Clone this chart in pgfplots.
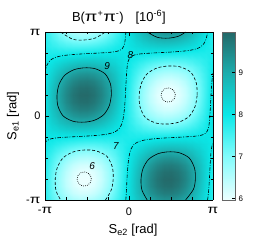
\documentclass[border=0pt]{standalone}
\usepackage{fontspec}
\setmainfont{Liberation Sans}
\usepackage{graphicx}
\usepackage{pgfplots}
\usepackage{pgfplotstable}
\pgfplotsset{compat=1.18}
\newcommand{\PI}{\scalebox{1.4}[1.08]{π}}
\pgfplotstableread{
x y z
-180 -180 7.71
-165 -180 7.36
-150 -180 7.04
-135 -180 6.79
-120 -180 6.61
-105 -180 6.52
-90 -180 6.54
-75 -180 6.64
-60 -180 6.84
-45 -180 7.11
-30 -180 7.43
-15 -180 7.79
0 -180 8.17
15 -180 8.52
30 -180 8.84
45 -180 9.09
60 -180 9.27
75 -180 9.36
90 -180 9.35
105 -180 9.24
120 -180 9.04
135 -180 8.77
150 -180 8.45
165 -180 8.09
180 -180 7.71
-180 -165 7.70
-165 -165 7.27
-150 -165 6.87
-135 -165 6.55
-120 -165 6.33
-105 -165 6.21
-90 -165 6.21
-75 -165 6.34
-60 -165 6.56
-45 -165 6.89
-30 -165 7.28
-15 -165 7.72
0 -165 8.18
15 -165 8.62
30 -165 9.01
45 -165 9.33
60 -165 9.55
75 -165 9.67
90 -165 9.67
105 -165 9.55
120 -165 9.32
135 -165 8.99
150 -165 8.60
165 -165 8.16
180 -165 7.70
-180 -150 7.71
-165 -150 7.22
-150 -150 6.78
-135 -150 6.41
-120 -150 6.16
-105 -150 6.02
-90 -150 6.01
-75 -150 6.14
-60 -150 6.39
-45 -150 6.74
-30 -150 7.18
-15 -150 7.67
0 -150 8.17
15 -150 8.66
30 -150 9.10
45 -150 9.47
60 -150 9.73
75 -150 9.86
90 -150 9.87
105 -150 9.74
120 -150 9.49
135 -150 9.14
150 -150 8.70
165 -150 8.22
180 -150 7.71
-180 -135 7.73
-165 -135 7.22
-150 -135 6.76
-135 -135 6.38
-120 -135 6.10
-105 -135 5.96
-90 -135 5.94
-75 -135 6.06
-60 -135 6.31
-45 -135 6.68
-30 -135 7.12
-15 -135 7.63
0 -135 8.15
15 -135 8.66
30 -135 9.12
45 -135 9.50
60 -135 9.78
75 -135 9.93
90 -135 9.94
105 -135 9.82
120 -135 9.57
135 -135 9.21
150 -135 8.76
165 -135 8.26
180 -135 7.73
-180 -120 7.77
-165 -120 7.27
-150 -120 6.82
-135 -120 6.45
-120 -120 6.18
-105 -120 6.03
-90 -120 6.01
-75 -120 6.12
-60 -120 6.35
-45 -120 6.70
-30 -120 7.12
-15 -120 7.61
0 -120 8.11
15 -120 8.61
30 -120 9.06
45 -120 9.43
60 -120 9.70
75 -120 9.85
90 -120 9.87
105 -120 9.76
120 -120 9.53
135 -120 9.18
150 -120 8.76
165 -120 8.27
180 -120 7.77
-180 -105 7.81
-165 -105 7.37
-150 -105 6.96
-135 -105 6.62
-120 -105 6.37
-105 -105 6.23
-90 -105 6.20
-75 -105 6.30
-60 -105 6.50
-45 -105 6.80
-30 -105 7.18
-15 -105 7.61
0 -105 8.07
15 -105 8.51
30 -105 8.92
45 -105 9.26
60 -105 9.51
75 -105 9.65
90 -105 9.68
105 -105 9.59
120 -105 9.38
135 -105 9.08
150 -105 8.70
165 -105 8.27
180 -105 7.81
-180 -90 7.87
-165 -90 7.50
-150 -90 7.17
-135 -90 6.88
-120 -90 6.67
-105 -90 6.55
-90 -90 6.52
-75 -90 6.59
-60 -90 6.74
-45 -90 6.99
-30 -90 7.29
-15 -90 7.64
0 -90 8.01
15 -90 8.38
30 -90 8.71
45 -90 9.00
60 -90 9.21
75 -90 9.33
90 -90 9.36
105 -90 9.29
120 -90 9.14
135 -90 8.90
150 -90 8.59
165 -90 8.24
180 -90 7.87
-180 -75 7.93
-165 -75 7.67
-150 -75 7.43
-135 -75 7.22
-120 -75 7.06
-105 -75 6.96
-90 -75 6.93
-75 -75 6.97
-60 -75 7.07
-45 -75 7.23
-30 -75 7.44
-15 -75 7.69
0 -75 7.95
15 -75 8.21
30 -75 8.45
45 -75 8.66
60 -75 8.82
75 -75 8.92
90 -75 8.95
105 -75 8.91
120 -75 8.81
135 -75 8.65
150 -75 8.44
165 -75 8.19
180 -75 7.93
-180 -60 7.99
-165 -60 7.85
-150 -60 7.72
-135 -60 7.60
-120 -60 7.51
-105 -60 7.44
-90 -60 7.41
-75 -60 7.42
-60 -60 7.46
-45 -60 7.53
-30 -60 7.63
-15 -60 7.75
0 -60 7.89
15 -60 8.03
30 -60 8.16
45 -60 8.28
60 -60 8.37
75 -60 8.44
90 -60 8.47
105 -60 8.46
120 -60 8.42
135 -60 8.35
150 -60 8.25
165 -60 8.13
180 -60 7.99
-180 -45 8.05
-165 -45 8.04
-150 -45 8.03
-135 -45 8.01
-120 -45 7.99
-105 -45 7.96
-90 -45 7.93
-75 -45 7.90
-60 -45 7.88
-45 -45 7.85
-30 -45 7.84
-15 -45 7.83
0 -45 7.83
15 -45 7.84
30 -45 7.85
45 -45 7.87
60 -45 7.90
75 -45 7.92
90 -45 7.95
105 -45 7.98
120 -45 8.01
135 -45 8.03
150 -45 8.04
165 -45 8.05
180 -45 8.05
-180 -30 8.10
-165 -30 8.23
-150 -30 8.33
-135 -30 8.41
-120 -30 8.46
-105 -30 8.47
-90 -30 8.45
-75 -30 8.39
-60 -30 8.30
-45 -30 8.19
-30 -30 8.05
-15 -30 7.92
0 -30 7.78
15 -30 7.66
30 -30 7.55
45 -30 7.47
60 -30 7.42
75 -30 7.41
90 -30 7.43
105 -30 7.49
120 -30 7.58
135 -30 7.70
150 -30 7.83
165 -30 7.96
180 -30 8.10
-180 -15 8.14
-165 -15 8.39
-150 -15 8.61
-135 -15 8.78
-120 -15 8.90
-105 -15 8.95
-90 -15 8.93
-75 -15 8.84
-60 -15 8.70
-45 -15 8.50
-30 -15 8.26
-15 -15 8.00
0 -15 7.74
15 -15 7.49
30 -15 7.27
45 -15 7.10
60 -15 6.98
75 -15 6.93
90 -15 6.95
105 -15 7.04
120 -15 7.18
135 -15 7.38
150 -15 7.62
165 -15 7.88
180 -15 8.14
-180 0 8.17
-165 0 8.52
-150 0 8.84
-135 0 9.09
-120 0 9.27
-105 0 9.36
-90 0 9.35
-75 0 9.24
-60 0 9.04
-45 0 8.77
-30 0 8.45
-15 0 8.09
0 0 7.71
15 0 7.36
30 0 7.04
45 0 6.79
60 0 6.61
75 0 6.52
90 0 6.54
105 0 6.64
120 0 6.84
135 0 7.11
150 0 7.43
165 0 7.79
180 0 8.17
-180 15 8.18
-165 15 8.62
-150 15 9.01
-135 15 9.33
-120 15 9.55
-105 15 9.67
-90 15 9.67
-75 15 9.55
-60 15 9.32
-45 15 8.99
-30 15 8.60
-15 15 8.16
0 15 7.70
15 15 7.27
30 15 6.87
45 15 6.55
60 15 6.33
75 15 6.21
90 15 6.21
105 15 6.34
120 15 6.56
135 15 6.89
150 15 7.28
165 15 7.72
180 15 8.18
-180 30 8.17
-165 30 8.66
-150 30 9.10
-135 30 9.47
-120 30 9.73
-105 30 9.86
-90 30 9.87
-75 30 9.74
-60 30 9.49
-45 30 9.14
-30 30 8.70
-15 30 8.22
0 30 7.71
15 30 7.22
30 30 6.78
45 30 6.41
60 30 6.16
75 30 6.02
90 30 6.01
105 30 6.14
120 30 6.39
135 30 6.74
150 30 7.18
165 30 7.67
180 30 8.17
-180 45 8.15
-165 45 8.66
-150 45 9.12
-135 45 9.50
-120 45 9.78
-105 45 9.93
-90 45 9.94
-75 45 9.82
-60 45 9.57
-45 45 9.21
-30 45 8.76
-15 45 8.26
0 45 7.73
15 45 7.22
30 45 6.76
45 45 6.38
60 45 6.10
75 45 5.96
90 45 5.94
105 45 6.06
120 45 6.31
135 45 6.68
150 45 7.12
165 45 7.63
180 45 8.15
-180 60 8.11
-165 60 8.61
-150 60 9.06
-135 60 9.43
-120 60 9.70
-105 60 9.85
-90 60 9.87
-75 60 9.76
-60 60 9.53
-45 60 9.18
-30 60 8.76
-15 60 8.27
0 60 7.77
15 60 7.27
30 60 6.82
45 60 6.45
60 60 6.18
75 60 6.03
90 60 6.01
105 60 6.12
120 60 6.35
135 60 6.70
150 60 7.12
165 60 7.61
180 60 8.11
-180 75 8.07
-165 75 8.51
-150 75 8.92
-135 75 9.26
-120 75 9.51
-105 75 9.65
-90 75 9.68
-75 75 9.59
-60 75 9.38
-45 75 9.08
-30 75 8.70
-15 75 8.27
0 75 7.81
15 75 7.37
30 75 6.96
45 75 6.62
60 75 6.37
75 75 6.23
90 75 6.20
105 75 6.30
120 75 6.50
135 75 6.80
150 75 7.18
165 75 7.61
180 75 8.07
-180 90 8.01
-165 90 8.38
-150 90 8.71
-135 90 9.00
-120 90 9.21
-105 90 9.33
-90 90 9.36
-75 90 9.29
-60 90 9.14
-45 90 8.90
-30 90 8.59
-15 90 8.24
0 90 7.87
15 90 7.50
30 90 7.17
45 90 6.88
60 90 6.67
75 90 6.55
90 90 6.52
105 90 6.59
120 90 6.74
135 90 6.99
150 90 7.29
165 90 7.64
180 90 8.01
-180 105 7.95
-165 105 8.21
-150 105 8.45
-135 105 8.66
-120 105 8.82
-105 105 8.92
-90 105 8.95
-75 105 8.91
-60 105 8.81
-45 105 8.65
-30 105 8.44
-15 105 8.19
0 105 7.93
15 105 7.67
30 105 7.43
45 105 7.22
60 105 7.06
75 105 6.96
90 105 6.93
105 105 6.97
120 105 7.07
135 105 7.23
150 105 7.44
165 105 7.69
180 105 7.95
-180 120 7.89
-165 120 8.03
-150 120 8.16
-135 120 8.28
-120 120 8.37
-105 120 8.44
-90 120 8.47
-75 120 8.46
-60 120 8.42
-45 120 8.35
-30 120 8.25
-15 120 8.13
0 120 7.99
15 120 7.85
30 120 7.72
45 120 7.60
60 120 7.51
75 120 7.44
90 120 7.41
105 120 7.42
120 120 7.46
135 120 7.53
150 120 7.63
165 120 7.75
180 120 7.89
-180 135 7.83
-165 135 7.84
-150 135 7.85
-135 135 7.87
-120 135 7.90
-105 135 7.92
-90 135 7.95
-75 135 7.98
-60 135 8.01
-45 135 8.03
-30 135 8.04
-15 135 8.05
0 135 8.05
15 135 8.04
30 135 8.03
45 135 8.01
60 135 7.99
75 135 7.96
90 135 7.93
105 135 7.90
120 135 7.88
135 135 7.85
150 135 7.84
165 135 7.83
180 135 7.83
-180 150 7.78
-165 150 7.66
-150 150 7.55
-135 150 7.47
-120 150 7.42
-105 150 7.41
-90 150 7.43
-75 150 7.49
-60 150 7.58
-45 150 7.70
-30 150 7.83
-15 150 7.96
0 150 8.10
15 150 8.23
30 150 8.33
45 150 8.41
60 150 8.46
75 150 8.47
90 150 8.45
105 150 8.39
120 150 8.30
135 150 8.19
150 150 8.05
165 150 7.92
180 150 7.78
-180 165 7.74
-165 165 7.49
-150 165 7.27
-135 165 7.10
-120 165 6.98
-105 165 6.93
-90 165 6.95
-75 165 7.04
-60 165 7.18
-45 165 7.38
-30 165 7.62
-15 165 7.88
0 165 8.14
15 165 8.39
30 165 8.61
45 165 8.78
60 165 8.90
75 165 8.95
90 165 8.93
105 165 8.84
120 165 8.70
135 165 8.50
150 165 8.26
165 165 8.00
180 165 7.74
-180 180 7.71
-165 180 7.36
-150 180 7.04
-135 180 6.79
-120 180 6.61
-105 180 6.52
-90 180 6.54
-75 180 6.64
-60 180 6.84
-45 180 7.11
-30 180 7.43
-15 180 7.79
0 180 8.17
15 180 8.52
30 180 8.84
45 180 9.09
60 180 9.27
75 180 9.36
90 180 9.35
105 180 9.24
120 180 9.04
135 180 8.77
150 180 8.45
165 180 8.09
180 180 7.71
}\surfdata

\begin{document}
\begin{tikzpicture}
\begin{axis}[
  name=main,
  view={0}{90},
  scale only axis, width=168bp, height=168bp,
  xmin=-180, xmax=180, ymin=-180, ymax=180,
  axis on top,
  xtick={-180,0,180}, xticklabels={-\PI,0,\PI},
  ytick={-180,0,180}, yticklabels={-\PI,0,\PI},
  minor xtick={-135,-90,-45,45,90,135},
  minor ytick={-135,-90,-45,45,90,135},
  ztick=\empty,
  tick align=inside,
  xtick pos=both, ytick pos=both,
  major tick length=4bp, minor tick length=2.5bp,
  tick style={black, line width=0.5bp},
  axis line style={black, line width=0.6bp},
  ticklabel style={font=\fontsize{11}{12}\selectfont},
  xticklabel style={yshift=-4bp},
  yticklabel style={xshift=-1bp},
  every axis x label/.style={at={(axis description cs:0.524,-0.1786)}, anchor=center, font=\fontsize{13}{15}\selectfont},
  every axis y label/.style={at={(axis description cs:-0.19,0.5)}, anchor=center, rotate=90, font=\fontsize{13}{15}\selectfont},
  xlabel={S\textsubscript{e2} [rad]},
  ylabel={S\textsubscript{e1} [rad]},
  title={B(\PI\textsuperscript{+}\PI\textsuperscript{-})\hspace{12bp}[10\textsuperscript{-6}]},
  every axis title/.style={at={(axis description cs:0.44,1.0637)}, anchor=base, font=\fontsize{13}{15}\selectfont},
  colormap={bt}{rgb255(0cm)=(236,255,255); rgb255(1.04cm)=(130,252,252); rgb255(2.04cm)=(10,232,232); rgb255(3.04cm)=(28,172,172); rgb255(4.01cm)=(36,104,104)},
  point meta min=5.96, point meta max=9.97,
  colorbar,
  colorbar style={
    at={(parent axis.north east)}, anchor=north west, xshift=0.5bp,
    scale only axis, width=13bp, height=168bp,
    ytick={6,7,8,9}, yticklabels={6,7,8,9},
    yticklabel style={font=\fontsize{8}{9}\selectfont},
    major tick length=3bp, tick align=inside,
    ytick pos=right, yticklabel pos=right,
    axis line style={black!60, line width=0.6bp},
    tick style={black, line width=0.5bp},
  },
]
\addplot3[surf, shader=interp, mesh/rows=25, mesh/cols=25] table[x=x,y=y,z=z] {\surfdata};

% level 9
\addplot3[black, line width=0.6bp, smooth] coordinates {(-37.8,45,10) (-39.6,68.3,10) (-51.0,90.0,10) (-72.7,101.4,10) (-96,103.2,10) (-118.3,99.0,10) (-138.0,87.0,10) (-150.0,67.3,10) (-154.2,45,10) (-152.4,21.7,10) (-141.0,0.0,10) (-119.3,-11.4,10) (-96,-13.2,10) (-73.7,-9.0,10) (-54.0,3.0,10) (-42.0,22.7,10) (-37.8,45,10)};
\addplot3[black, line width=0.6bp, smooth] coordinates {(121.1,-180,10) (138.0,-157.3,10) (142.2,-135,10) (140.4,-111.7,10) (129.0,-90.0,10) (107.3,-78.6,10) (84,-76.8,10) (61.7,-81.0,10) (42.0,-93.0,10) (30.0,-112.7,10) (25.8,-135,10) (27.6,-158.3,10) (39.0,-180,10)};
\addplot3[black, line width=0.6bp, smooth] coordinates {(39.0,180,10) (60.7,168.6,10) (84,166.8,10) (106.3,171.0,10) (121.1,180,10)};

% level 7
\addplot3[black, line width=0.6bp, smooth, dash pattern=on 3bp off 2bp] coordinates {(146.1,45,10) (144.4,70.0,10) (132.6,93.6,10) (109.0,105.4,10) (84,107.1,10) (60.0,102.8,10) (38.7,90.3,10) (26.2,69.0,10) (21.9,45,10) (23.6,20.0,10) (35.4,-3.6,10) (59.0,-15.4,10) (84,-17.1,10) (108.0,-12.8,10) (129.3,-0.3,10) (141.8,21.0,10) (146.1,45,10)};
\addplot3[black, line width=0.6bp, smooth, dash pattern=on 3bp off 2bp] coordinates {(-50.5,-180,10) (-38.2,-159.0,10) (-33.9,-135,10) (-35.6,-110.0,10) (-47.4,-86.4,10) (-71.0,-74.6,10) (-96,-72.9,10) (-120.0,-77.2,10) (-141.3,-89.7,10) (-153.8,-111.0,10) (-158.1,-135,10) (-156.4,-160.0,10) (-146.4,-180,10)};
\addplot3[black, line width=0.6bp, smooth, dash pattern=on 3bp off 2bp] coordinates {(-146.4,180,10) (-121.0,164.6,10) (-96,162.9,10) (-72.0,167.2,10) (-50.5,180,10)};

% level 6
\addplot3[black, line width=0.6bp, smooth, dash pattern=on 0.8bp off 1.2bp] coordinates {(99.2,45,10) (97.2,52.6,10) (91.6,58.2,10) (84,60.2,10) (76.4,58.2,10) (70.8,52.6,10) (68.8,45,10) (70.8,37.4,10) (76.4,31.8,10) (84,29.8,10) (91.6,31.8,10) (97.2,37.4,10) (99.2,45,10)};
\addplot3[black, line width=0.6bp, smooth, dash pattern=on 0.8bp off 1.2bp] coordinates {(-80.8,-135,10) (-82.8,-127.4,10) (-88.4,-121.8,10) (-96,-119.8,10) (-103.6,-121.8,10) (-109.2,-127.4,10) (-111.2,-135,10) (-109.2,-142.6,10) (-103.6,-148.2,10) (-96,-150.2,10) (-88.4,-148.2,10) (-82.8,-142.6,10) (-80.8,-135,10)};

% level 8
\addplot3[black, line width=0.6bp, smooth, dash pattern=on 3.5bp off 1.5bp on 0.8bp off 1.5bp] coordinates {(-180,-59.55,10) (-177.15,-53.85,10) (-167.15,-48.85,10) (-154.2,-46.8,10) (-140.3,-45.7,10) (-126.15,-44.85,10) (-111.9,-44.1,10) (-97.6,-43.4,10) (-83.45,-42.55,10) (-69.5,-41.5,10) (-55.9,-40.1,10) (-43,-38,10) (-31.5,-34.5,10) (-22.45,-28.55,10) (-16.5,-19.5,10) (-13,-8,10) (-10.9,4.9,10) (-9.5,18.5,10) (-8.45,32.45,10) (-7.6,46.6,10) (-6.9,60.9,10) (-6.15,75.15,10) (-5.3,89.3,10) (-4.2,103.2,10) (-2.15,116.15,10) (2.85,126.15,10) (12.85,131.15,10) (25.8,133.2,10) (39.7,134.3,10) (53.85,135.15,10) (68.1,135.9,10) (82.4,136.6,10) (96.55,137.45,10) (110.5,138.5,10) (124.1,139.9,10) (137,142,10) (148.5,145.5,10) (157.55,151.45,10) (163.5,160.5,10) (167,172,10) (168.3,180,10)};
\addplot3[black, line width=0.6bp, smooth, dash pattern=on 3.5bp off 1.5bp on 0.8bp off 1.5bp] coordinates {(168.3,-180,10) (169.1,-175.1,10) (170.5,-161.5,10) (171.55,-147.55,10) (172.4,-133.4,10) (173.1,-119.1,10) (173.85,-104.85,10) (174.7,-90.7,10) (175.8,-76.8,10) (177.85,-63.85,10) (180,-59.55,10)};
\addplot3[black, line width=0.6bp, smooth, dash pattern=on 3.5bp off 1.5bp on 0.8bp off 1.5bp] coordinates {(-180,91.9,10) (-179,98,10) (-175.5,109.5,10) (-169.55,118.55,10) (-160.5,124.5,10) (-149,128,10) (-136.1,130.1,10) (-122.5,131.5,10) (-108.55,132.55,10) (-94.4,133.4,10) (-80.1,134.1,10) (-65.85,134.85,10) (-51.7,135.7,10) (-37.8,136.8,10) (-24.85,138.85,10) (-14.85,143.85,10) (-9.85,153.85,10) (-7.8,166.8,10) (-6.75,180,10)};
\addplot3[black, line width=0.6bp, smooth, dash pattern=on 3.5bp off 1.5bp on 0.8bp off 1.5bp] coordinates {(-6.75,-180,10) (-5.85,-165.15,10) (-5.1,-150.9,10) (-4.4,-136.6,10) (-3.55,-122.45,10) (-2.5,-108.5,10) (-1.1,-94.9,10) (1,-82,10) (4.5,-70.5,10) (10.45,-61.45,10) (19.5,-55.5,10) (31,-52,10) (43.9,-49.9,10) (57.5,-48.5,10) (71.45,-47.45,10) (85.6,-46.6,10) (99.9,-45.9,10) (114.15,-45.15,10) (128.3,-44.3,10) (142.2,-43.2,10) (155.15,-41.15,10) (165.15,-36.15,10) (170.15,-26.15,10) (172.2,-13.2,10) (173.3,0.7,10) (174.15,14.85,10) (174.9,29.1,10) (175.6,43.4,10) (176.45,57.55,10) (177.5,71.5,10) (178.9,85.1,10) (180,91.9,10)};

\node[font=\fontsize{10}{10}\selectfont\itshape, inner sep=0pt] at (axis cs:-47,108,10) {9};
\node[font=\fontsize{10}{10}\selectfont\itshape, inner sep=0pt] at (axis cs:3,131,10) {8};
\node[font=\fontsize{10}{10}\selectfont\itshape, inner sep=0pt] at (axis cs:-28,-64,10) {7};
\node[font=\fontsize{10}{10}\selectfont\itshape, inner sep=0pt] at (axis cs:-79,-107,10) {6};
\end{axis}
\pgfresetboundingbox
\path ([shift={(-45bp,-45bp)}]main.south west) rectangle ([shift={(48bp,32bp)}]main.north east);
\end{tikzpicture}
\end{document}
